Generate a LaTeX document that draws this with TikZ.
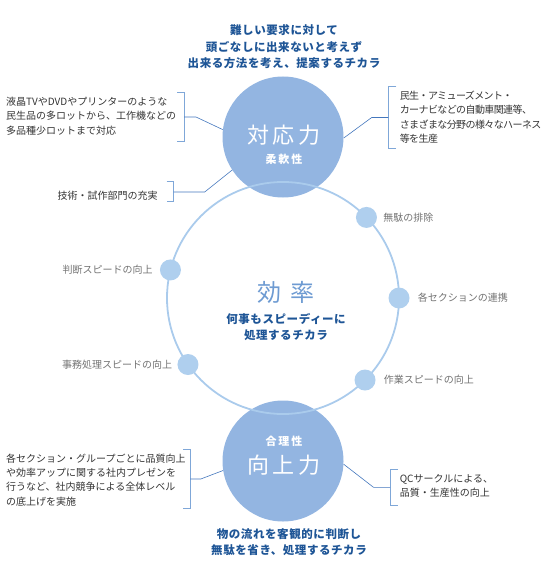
\documentclass[tikz,border=0pt]{standalone}
\usepackage{fontspec}
\setmainfont{Noto Sans CJK JP}
\usepackage{xcolor}
\usetikzlibrary{positioning}

\definecolor{circfill}{HTML}{93B5E1}
\definecolor{ringcol}{HTML}{AACBEC}
\definecolor{dotfill}{HTML}{AFCFEE}
\definecolor{brackcol}{HTML}{7FA7D8}
\definecolor{linkcol}{HTML}{4477BD}
\definecolor{navy}{HTML}{1E5596}
\definecolor{effcol}{HTML}{6E9BD2}
\definecolor{taggray}{HTML}{727272}
\definecolor{notetext}{HTML}{333333}

\begin{document}
\begin{tikzpicture}[
x=1pt,y=-1pt,
bigcirc/.style={circle,fill=circfill,minimum size=121pt,inner sep=0pt},
ring/.style={circle,draw=ringcol,line width=1.8pt,minimum size=232pt,inner sep=0pt,outer sep=0pt},
dot/.style={circle,fill=dotfill,minimum size=21pt,inner sep=0pt},
title/.style={text=white,font=\fontsize{22}{24}\selectfont\addfontfeatures{LetterSpace=18},inner sep=0pt},
subtitle/.style={text=white,font=\fontsize{11}{13}\selectfont\bfseries\addfontfeatures{LetterSpace=18},inner sep=0pt},
pitch/.style={align=center,text=navy,font=\fontsize{11.5}{16.6}\selectfont\bfseries\addfontfeatures{LetterSpace=5},inner sep=0pt},
note/.style={align=left,text=notetext,font=\fontsize{10}{14.3}\selectfont,inner sep=0pt},
tag/.style={text=taggray,font=\fontsize{10}{12}\selectfont,inner sep=0pt},
bracket/.style={draw=brackcol,line width=0.8pt},
link/.style={draw=linkcol,line width=0.6pt}
]
\useasboundingbox (0,0) rectangle (542,580);

% three circles
\node[bigcirc] (taio) at (283,137) {};
\node[bigcirc] (kojo) at (283,461) {};
\node[ring] (eff) at (283,298) {};

\node[title] (taiot) at (284,135.5) {対応力};
\node[subtitle,below=8pt of taiot] {柔軟性};
\node[title] (kojot) at (284,465.5) {向上力};
\node[subtitle,above=8pt of kojot] {合理性};
\node[text=effcol,font=\fontsize{24}{26}\selectfont\addfontfeatures{LetterSpace=35},inner sep=0pt] (efft) at (286,292.5) {効率};
\node[pitch,below=9pt of efft] {何事もスピーディーに\\処理するチカラ};

\node[pitch] (toptext) at (284,46.7) {難しい要求に対して\\頭ごなしに出来ないと考えず\\出来る方法を考え、提案するチカラ};
\node[pitch] (bottext) at (289,542.3) {物の流れを客観的に判断し\\無駄を省き、処理するチカラ};

% points on the ring
\node[dot] (muda) at (eff.44) {};
\node[dot] (handan) at (eff.166) {};
\node[dot] (renkei) at (eff.0) {};
\node[dot] (jimu) at (eff.215) {};
\node[dot] (sagyo) at (eff.315) {};
\node[tag,right=6pt of muda] {無駄の排除};
\node[tag,left=7pt of handan] {判断スピードの向上};
\node[tag,right=8pt of renkei] {各セクションの連携};
\node[tag,left=5pt of jimu] {事務処理スピードの向上};
\node[tag,right=8pt of sagyo] {作業スピードの向上};

% notes with brackets
\node[note,anchor=west] (lcd) at (6,116.2) {液晶TVやDVDやプリンターのような\\民生品の多ロットから、工作機などの\\多品種少ロットまで対応};
\node[note,anchor=west,font=\fontsize{10}{14.3}\selectfont\addfontfeatures{LetterSpace=-6}] (harness) at (399.6,117.2) {民生・アミューズメント・\\カーナビなどの自動車関連等、\\さまざまな分野の様々なハーネス\\等を生産};
\node[note,anchor=west] (gijutsu) at (57.3,195.7) {技術・試作部門の充実};
\node[note,anchor=west] (present) at (6,480) {各セクション・グループごとに品質向上\\や効率アップに関する社内プレゼンを\\行うなど、社内競争による全体レベル\\の底上げを実施};
\node[note,anchor=west] (qc) at (399.6,486) {QCサークルによる、\\品質・生産性の向上};

\coordinate (blcd) at (184,117);
\coordinate (bharness) at (388.3,117.5);
\coordinate (bgijutsu) at (173.7,192);
\coordinate (bpresent) at (190.4,479);
\coordinate (bqc) at (390,487.3);

\draw[bracket] (blcd) ++(-7,-24.7) -- ++(7,0) -- ++(0,49.4) -- ++(-7,0);
\draw[bracket] (bharness) ++(8,-31.5) -- ++(-8,0) -- ++(0,62.6) -- ++(8,0);
\draw[bracket] (bgijutsu) ++(-7,-10.3) -- ++(7,0) -- ++(0,20) -- ++(-7,0);
\draw[bracket] (bpresent) ++(-7,-30) -- ++(7,0) -- ++(0,59.3) -- ++(-7,0);
\draw[bracket] (bqc) ++(8,-18) -- ++(-8,0) -- ++(0,35.7) -- ++(8,0);

\draw[link] (blcd) -- ++(12,0) -- (taio.173);
\draw[link] (bharness) -- ++(-16.6,0) -- (taio.359);
\draw[link] (bgijutsu) -- ++(31,0) -- (taio.213);
\draw[link] (bpresent) -- ++(10.4,0) -- (kojo.189);
\draw[link] (bqc) -- ++(-16.5,0) -- (kojo.357);
\end{tikzpicture}
\end{document}
